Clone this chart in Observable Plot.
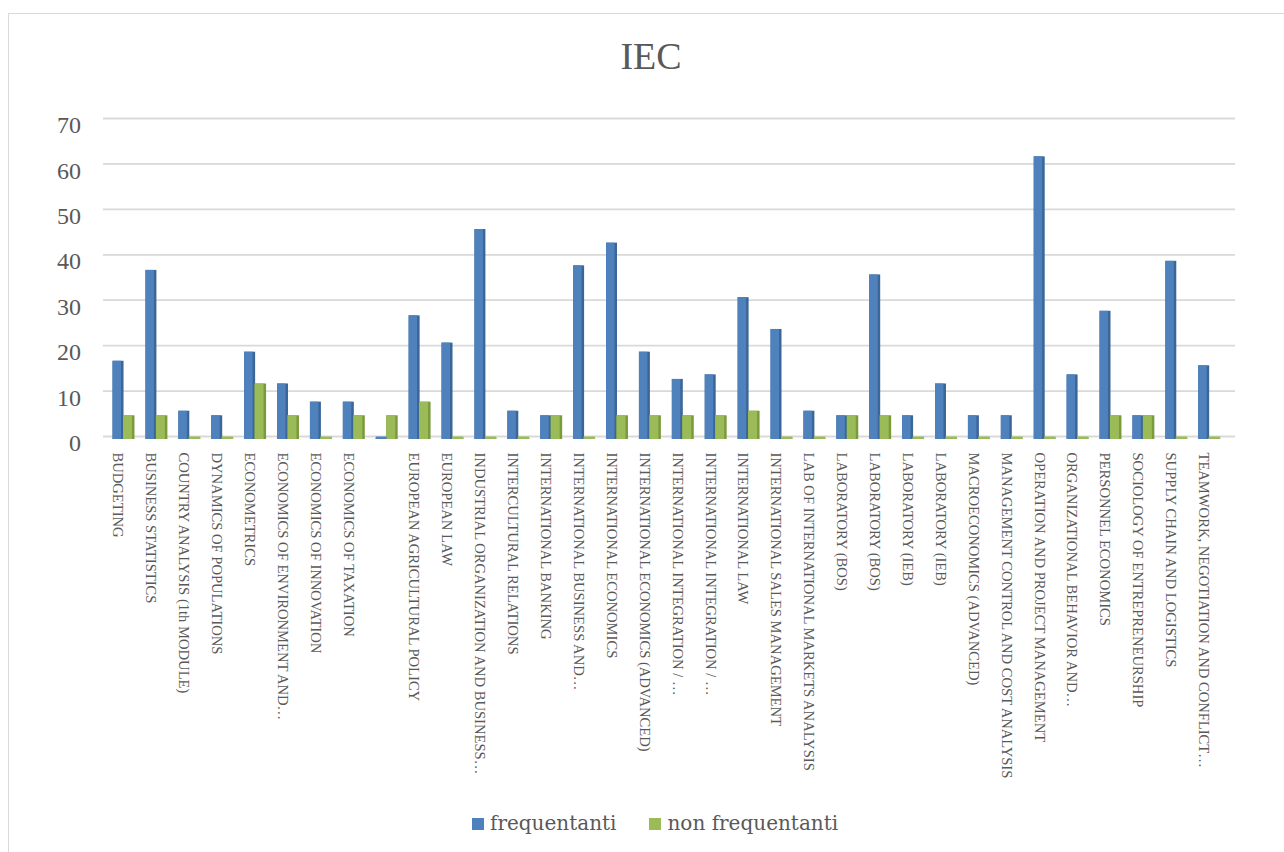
<!DOCTYPE html>
<html>
<head>
<meta charset="utf-8">
<script src="https://cdn.jsdelivr.net/npm/d3@7"></script>
<script src="https://cdn.jsdelivr.net/npm/@observablehq/plot@0.6"></script>
<style>
  html, body { margin: 0; padding: 0; background: #fff; }
  body { width: 1284px; height: 852px; position: relative; overflow: hidden; }
  #frame { position: absolute; left: 8px; top: 13px; width: 1400px; height: 1000px; border: 1px solid #d9d9d9; box-sizing: border-box; }
  #title { position: absolute; left: 0; top: 37px; width: 1302px; text-align: center; font-family: "Liberation Serif", serif; font-size: 38px; line-height: 38px; color: #595959; }
  #chart { position: absolute; left: 0; top: 95px; }
  #legend { position: absolute; left: 472px; top: 812px; font-family: "DejaVu Serif", serif; font-size: 20px; line-height: 22px; color: #595959; white-space: nowrap; }
  #legend .sw { display: inline-block; width: 12px; height: 12px; margin-right: 6px; vertical-align: baseline; }
  #legend .item { display: inline-block; }
</style>
</head>
<body>
<div id="frame"></div>
<div id="title">IEC</div>
<div id="chart"></div>
<div id="legend"></div>
<script>
const labels = ["BUDGETING","BUSINESS STATISTICS","COUNTRY ANALYSIS (1th MODULE)","DYNAMICS OF POPULATIONS","ECONOMETRICS","ECONOMICS OF ENVIRONMENT AND…","ECONOMICS OF INNOVATION","ECONOMICS OF TAXATION","","EUROPEAN AGRICULTURAL POLICY","EUROPEAN LAW","INDUSTRIAL ORGANIZATION AND BUSINESS…","INTERCULTURAL RELATIONS","INTERNATIONAL BANKING","INTERNATIONAL BUSINESS AND…","INTERNATIONAL ECONOMICS","INTERNATIONAL ECONOMICS (ADVANCED)","INTERNATIONAL INTEGRATION / …","INTERNATIONAL INTEGRATION / …","INTERNATIONAL LAW","INTERNATIONAL SALES MANAGEMENT","LAB OF INTERNATIONAL MARKETS ANALYSIS","LABORATORY (BOS)","LABORATORY (BOS)","LABORATORY (IEB)","LABORATORY (IEB)","MACROECONOMICS (ADVANCED)","MANAGEMENT CONTROL AND COST ANALYSIS","OPERATION AND PROJECT MANAGEMENT","ORGANIZATIONAL BEHAVIOR AND…","PERSONNEL ECONOMICS","SOCIOLOGY OF ENTREPRENEURSHIP","SUPPLY CHAIN AND LOGISTICS","TEAMWORK, NEGOTIATION AND CONFLICT…"];
const frequentanti = [17,37,6,5,19,12,8,8,0,27,21,46,6,5,38,43,19,13,14,31,24,6,5,36,5,12,5,5,62,14,28,5,39,16];
const nonFrequentanti = [5,5,0,0,12,5,0,5,5,8,0,0,0,5,0,5,5,5,5,6,0,0,5,5,0,0,0,0,0,0,5,5,0,0];
const seriesNames = ["frequentanti", "non frequentanti"];
const yTicks = [0,10,20,30,40,50,60,70];

const BLUE = "#4f81bd", BLUE_SIDE = "#3a6698", GREEN = "#9bbb59", GREEN_SIDE = "#7b9a3c";

const rows = labels.map((l, i) => ({key: String(i), freq: frequentanti[i], non: nonFrequentanti[i]}));
const half = 10.97;

const chart = Plot.plot({
  width: 1284,
  height: 700,
  marginTop: 26,
  marginBottom: 356,
  marginLeft: 103,
  marginRight: 49,
  style: {fontFamily: "Liberation Serif, serif", color: "#595959", background: "transparent"},
  x: {domain: rows.map(d => d.key), paddingInner: 0.333, paddingOuter: 0.29, insetRight: 5.3},
  y: {domain: [0, 70]},
  marks: [
    Plot.ruleY(yTicks, {stroke: "#d9d9d9", strokeWidth: 1.8, dy: -3}),
    Plot.rectY(rows, {x: "key", y: "freq", insetRight: half, insetTop: -1, fill: BLUE_SIDE}),
    Plot.rectY(rows, {x: "key", y: "freq", insetRight: half + 2.5, insetTop: -1, fill: BLUE}),
    Plot.rectY(rows, {x: "key", y: "non", insetLeft: half - 0.5, insetTop: -1, fill: GREEN_SIDE}),
    Plot.rectY(rows, {x: "key", y: "non", insetLeft: half - 0.5, insetRight: 2.5, insetTop: -1, fill: GREEN}),
    Plot.rectY(rows.filter(d => d.freq === 0), {x: "key", y1: 0, y2: 0, insetRight: half, insetTop: -2.5, fill: BLUE}),
    Plot.rectY(rows.filter(d => d.non === 0), {x: "key", y1: 0, y2: 0, insetLeft: half - 0.5, insetTop: -2.5, fill: GREEN}),
    Plot.axisY({ticks: yTicks, tickSize: 0, tickPadding: 22.5, fontSize: 24, dy: 4, label: null, fill: "#595959"}),
    Plot.axisX({tickFormat: k => labels[+k], tickRotate: 90, tickSize: 0, tickPadding: 13, dx: -6, fontSize: 14.6, label: null, fill: "#595959"})
  ]
});
document.getElementById("chart").appendChild(chart);

const colors = [BLUE, GREEN];
const legend = document.getElementById("legend");
seriesNames.forEach((name, i) => {
  const item = document.createElement("span");
  item.className = "item";
  if (i > 0) item.style.marginLeft = "33px";
  const sw = document.createElement("span");
  sw.className = "sw";
  sw.style.background = colors[i];
  item.appendChild(sw);
  item.appendChild(document.createTextNode(name));
  legend.appendChild(item);
});
</script>
</body>
</html>
